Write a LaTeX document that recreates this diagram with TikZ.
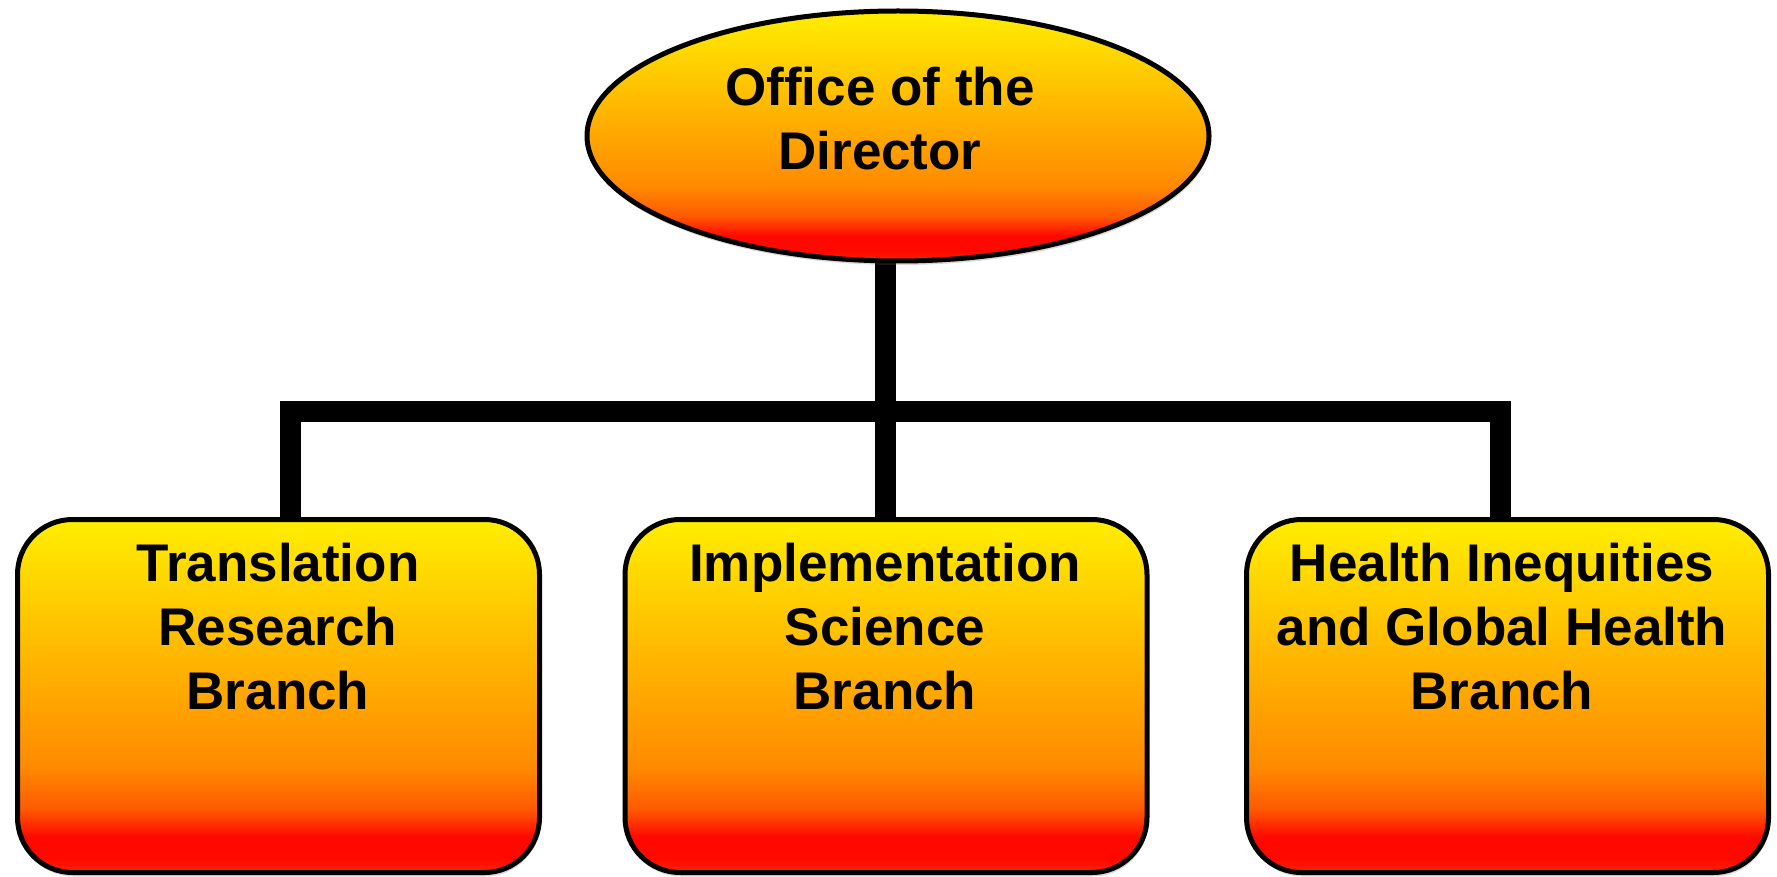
\documentclass[tikz,border=0pt]{standalone}
\usepackage{fontspec}
\setmainfont{Liberation Sans}
\usetikzlibrary{shapes.geometric,shadows,backgrounds}
\definecolor{ry}{HTML}{FFEE00}
\definecolor{ro}{HTML}{FF8A00}
\definecolor{ro2}{HTML}{FF5A00}
\definecolor{rr}{HTML}{FF0800}
\definecolor{rb}{HTML}{FF2400}
\pgfdeclareverticalshading{ryshade}{100bp}{color(0bp)=(rb); color(25bp)=(rb); color(27bp)=(rr); color(30bp)=(rr); color(34bp)=(ro2); color(40bp)=(ro); color(75bp)=(ry); color(100bp)=(ry)}
\tikzset{
  shp/.style={draw=black, line width=5pt, shade, shading=ryshade,
    drop shadow={opacity=0.25, shadow xshift=1pt, shadow yshift=-4pt, fill=black!60}},
  oval/.style={shp, ellipse, inner sep=0pt, minimum width=622pt, minimum height=250pt},
  bbox/.style={shp, rectangle, rounded corners=55pt, inner sep=0pt, minimum width=522pt, minimum height=353pt},
  txt/.style={font=\fontsize{53}{64}\selectfont\bfseries, align=center, inner sep=0pt, anchor=north, text=black},
  conn/.style={draw=black, line width=21pt, line join=miter, line cap=butt}
}
\begin{document}
\begin{tikzpicture}[x=1pt,y=-1pt]
\useasboundingbox (0,0) rectangle (1777,877);
\node[oval] (dir) at (898,136) {};
\node[txt] (dirt) at (880,67) {Office of the\\Director};
\node[bbox] (tl) at (278.5,696) {};
\node[bbox] (tm) at (886,696) {};
\node[bbox] (tr) at (1507.5,696) {};
\node[txt] (tlt) at (278,543) {Translation\\Research\\Branch};
\node[txt] (tmt) at (885,543) {Implementation\\Science\\Branch};
\node[txt] (trt) at (1502,543) {Health Inequities\\and Global Health\\Branch};
\coordinate (jl) at (290,411);
\coordinate (jm) at (885,411);
\coordinate (jr) at (1500,411);
\begin{pgfonlayer}{background}
\draw[conn] (jm |- dir.south) -- (jm) -- (jm |- tm.north);
\draw[conn] (jl |- tl.north) -- (jl) -- (jr) -- (jr |- tr.north);
\end{pgfonlayer}
\end{tikzpicture}
\end{document}
